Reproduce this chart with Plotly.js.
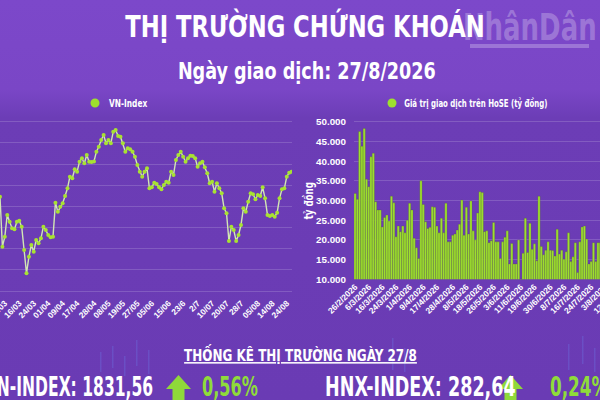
<!DOCTYPE html>
<html><head><meta charset="utf-8">
<script src="https://cdn.plot.ly/plotly-3.0.1.min.js"></script>
<style>
html,body{margin:0;padding:0;width:600px;height:400px;overflow:hidden;
background:linear-gradient(to bottom,#7c48ca 0px,#7a46c6 90px,#6c3db6 118px,#6a3bb4 400px);}
#chart{position:absolute;left:-60px;top:0;width:720px;height:400px;}
</style></head><body><div id="chart"></div>
<script>
// VN-Index daily closes (visible window)
const vnIndex = [1772.8,1654.7,1678.3,1729.6,1713.7,1698.1,1695.8,1713.7,1716.0,1701.9,
1646.9,1591.8,1631.0,1658.7,1642.8,1670.5,1662.7,1674.5,1701.9,1694.1,
1682.3,1676.9,1678.3,1758.6,1737.4,1749.2,1757.2,1774.5,1792.6,1820.1,
1816.3,1837.5,1831.9,1855.5,1863.5,1851.7,1871.3,1855.5,1855.0,1856.0,
1879.1,1890.9,1906.8,1918.6,1899.0,1906.8,1899.0,1926.4,1930.4,1916.2,
1914.6,1899.0,1879.1,1887.2,1884.8,1879.1,1867.3,1847.7,1831.9,1820.1,
1831.9,1839.9,1792.6,1795.0,1805.9,1802.8,1795.0,1790.3,1800.4,1808.2,
1805.9,1831.9,1824.1,1859.5,1871.3,1879.1,1867.3,1855.5,1863.5,1869.7,
1869.0,1863.5,1843.7,1851.7,1855.5,1842.3,1828.1,1804.5,1808.2,1784.6,
1804.5,1792.6,1780.8,1745.4,1733.6,1668.1,1701.9,1694.1,1668.1,1682.3,
1705.9,1745.4,1737.4,1761.0,1780.8,1778.5,1766.7,1776.8,1774.5,1795.0,
1769.0,1729.6,1727.2,1729.6,1725.5,1735.0,1769.0,1790.3,1792.6,1820.1,
1829.5,1831.56];
const vnTickIdx  = [2,8,14,20,26,32,39,45,51,57,63,70,76,82,88,94,100,107,113,119];
const vnTickText = ['06/03','16/03','24/03','01/04','09/04','17/04','28/04','08/05','19/05','27/05',
'05/06','15/06','23/6','2/7','10/07','20/07','28/7','05/08','14/08','24/08'];

// HoSE trading value (tỷ đồng)
const hoseValue = [31800,30300,47500,43800,48300,35400,33500,41100,42000,29700,
27600,27600,23300,25700,26300,24800,31100,29400,20800,23500,
22100,23500,21800,25000,29300,27600,20400,18000,15300,35000,
29000,24600,22900,23200,28400,28300,23500,21800,25500,21800,
29300,19500,
19500,21200,21500,22500,24000,30100,21200,28300,21500,29900,
22300,20000,26800,32200,32000,22100,22300,19300,19800,24400,
19500,19500,15300,19500,20700,22300,13900,19100,13900,13900,
20000,10000,16600,25500,16800,24200,17600,19000,14700,31100,
18300,16200,17400,19500,17400,17300,15900,22700,16400,17400,
15100,17000,21800,14500,15700,19300,11700,19500,23300,23500,
20200,13900,14500,19300,14500,19300,19300,19300];
const hoseTickIdx  = [0,6,12,18,24,30,36,43,49,55,61,67,73,79,86,92,98,104,110,117];
const hoseTickText = ['26/2/2026','6/3/2026','16/3/2026','24/3/2026','1/4/2026','9/4/2026','17/4/2026',
'28/4/2026','8/5/2026','18/5/2026','26/5/2026','3/6/2026','11/6/2026','19/6/2026','30/6/2026',
'8/7/2026','16/7/2026','24/7/2026','3/8/2026','12/8/2026'];

const vnClose = '1831,56', vnChange = '0,56%';
const hnxClose = '282,64', hnxChange = '0,24%';

const OFF = 60, W = 720, H = 400;
const px = p => (p + OFF) / W;
const py = p => 1 - p / H;
const FONT = "'Liberation Sans Narrow','Arial Narrow','DejaVu Sans Condensed',sans-serif";
const TICKFONT = "'Liberation Sans',Arial,sans-serif";
const GREEN = '#9ee02e';

const traces = [
  {type:'scatter', mode:'lines+markers', x: vnIndex.map((_, i) => i), y: vnIndex,
   xaxis:'x', yaxis:'y', line:{color:'#d2e6b4', width:1.4},
   marker:{color:'#a8e232', size:4}, showlegend:false, hoverinfo:'y'},
  {type:'bar', x: hoseValue.map((_, i) => i), y: hoseValue, xaxis:'x2', yaxis:'y2',
   marker:{color:GREEN, line:{color:'rgba(80,90,55,0.55)', width:0.5}}, showlegend:false}
];

function arrow(cx){
  const t = 375, hb = 389, b = 404, hw = 12.5, sw = 6;
  return {type:'path', xref:'paper', yref:'paper', fillcolor:'#8fd83a', line:{width:0},
    path:`M ${px(cx)} ${py(t)} L ${px(cx+hw)} ${py(hb)} L ${px(cx+sw)} ${py(hb)} L ${px(cx+sw)} ${py(b)} L ${px(cx-sw)} ${py(b)} L ${px(cx-sw)} ${py(hb)} L ${px(cx-hw)} ${py(hb)} Z`};
}
// faint decorative candlestick strokes in the footer background
function stick(x, y0, y1, w){
  return {type:'rect', xref:'paper', yref:'paper', x0:px(x), x1:px(x + w), y0:py(y1), y1:py(y0),
    fillcolor:'rgba(110,150,255,0.22)', line:{width:0}, layer:'below'};
}

// horizontal squeeze for each annotation (the reference uses a condensed face)
const squeeze = [0.78, 0.85, 0.75, 0.74, 0.8, 0.86, 0.665, 0.69, 0.75, 0.72];
const origin  = ['center','center','left','left','center','center','right','left','left','left'];

const layout = {
  width: W, height: H, margin:{l:0, r:0, t:0, b:0},
  paper_bgcolor:'rgba(0,0,0,0)', plot_bgcolor:'rgba(0,0,0,0)',
  separators: ',.',
  font:{family:FONT, color:'white'},
  title:{text:'THỊ TRƯỜNG CHỨNG KHOÁN', x:px(305), xanchor:'center', y:py(27), yanchor:'middle',
    font:{family:FONT, size:30, color:'white', weight:700}},
  bargap: 0.02,
  xaxis:{domain:[px(0), px(292)], range:[0, 121.17], tickvals:vnTickIdx, ticktext:vnTickText,
    tickangle:-45, tickfont:{family:TICKFONT, size:8.3, color:'white', weight:700},
    showgrid:false, zeroline:false, showline:false, ticks:'', fixedrange:true},
  yaxis:{domain:[py(296), py(112)], range:[1538.2, 1972.9], tick0:1550, dtick:50,
    showticklabels:false, gridcolor:'rgba(255,255,255,0.16)', gridwidth:1, zeroline:false, fixedrange:true},
  xaxis2:{anchor:'y2', domain:[px(354), 1], range:[-0.5, 134.3], tickvals:hoseTickIdx, ticktext:hoseTickText,
    tickangle:-45, tickfont:{family:TICKFONT, size:8.5, color:'white', weight:700},
    showgrid:false, zeroline:false, showline:false, ticks:'', fixedrange:true},
  yaxis2:{anchor:'x2', domain:[py(279.3), py(112)], range:[10000, 52462], tick0:10000, dtick:5000,
    tickformat:',.0f', tickfont:{family:TICKFONT, size:9.8, color:'white', weight:700},
    gridcolor:'rgba(255,255,255,0.16)', gridwidth:1, zeroline:false, showline:false,
    ticks:'', ticklabelstandoff:7, fixedrange:true},
  shapes:[
    stick(100, 352, 372, 1.5), stick(112, 346, 368, 1.5), stick(124, 356, 376, 1.5),
    stick(136, 340, 366, 1.5), stick(148, 350, 374, 1.5), stick(392, 338, 370, 1.5),
    stick(404, 348, 372, 1.5), stick(568, 344, 370, 1.5), stick(582, 336, 364, 1.5),
    stick(594, 348, 372, 1.5),
    {type:'rect', xref:'paper', yref:'paper', x0:px(470), x1:px(589), y0:py(48), y1:py(44),
     fillcolor:'rgba(255,255,255,0.25)', line:{width:0}},
    {type:'circle', xref:'paper', yref:'paper', x0:px(90.5), x1:px(99.5), y0:py(107.5), y1:py(98.5),
     fillcolor:GREEN, line:{width:0}},
    {type:'circle', xref:'paper', yref:'paper', x0:px(387.5), x1:px(396.5), y0:py(107.5), y1:py(98.5),
     fillcolor:GREEN, line:{width:0}},
    arrow(178.5), arrow(510.5)
  ],
  annotations:[
    {text:'NhânDân', xref:'paper', yref:'paper', x:px(529.5), y:py(27), xanchor:'center', yanchor:'middle',
     showarrow:false, font:{family:FONT, size:37, color:'rgba(255,255,255,0.26)', weight:700}},
    {text:'Ngày giao dịch: 27/8/2026', xref:'paper', yref:'paper', x:px(307), y:py(71), xanchor:'center', yanchor:'middle',
     showarrow:false, font:{family:FONT, size:23, color:'white', weight:700}},
    {text:'VN-Index', xref:'paper', yref:'paper', x:px(107), y:py(103), xanchor:'left', yanchor:'middle',
     showarrow:false, font:{family:FONT, size:11, color:'white', weight:700}},
    {text:'Giá trị giao dịch trên HoSE (tỷ đồng)', xref:'paper', yref:'paper', x:px(402), y:py(103), xanchor:'left', yanchor:'middle',
     showarrow:false, font:{family:FONT, size:10.5, color:'white', weight:700}},
    {text:'tỷ đồng', xref:'paper', yref:'paper', x:px(309), y:py(200), xanchor:'center', yanchor:'middle',
     textangle:-90, showarrow:false, font:{family:FONT, size:12, color:'white', weight:700}},
    {text:'<u>THỐNG KÊ THỊ TRƯỜNG NGÀY 27/8</u>', xref:'paper', yref:'paper', x:px(300), y:py(354), xanchor:'center', yanchor:'middle',
     showarrow:false, font:{family:FONT, size:15.5, color:'white', weight:700}},
    {text:'VN-INDEX: ' + vnClose, xref:'paper', yref:'paper', x:px(155), y:py(387), xanchor:'right', yanchor:'middle',
     showarrow:false, font:{family:FONT, size:26, color:'white', weight:700}},
    {text:vnChange, xref:'paper', yref:'paper', x:px(200), y:py(387), xanchor:'left', yanchor:'middle',
     showarrow:false, font:{family:FONT, size:26, color:'#8fdc3a', weight:700}},
    {text:'HNX-INDEX: ' + hnxClose, xref:'paper', yref:'paper', x:px(323), y:py(387), xanchor:'left', yanchor:'middle',
     showarrow:false, font:{family:FONT, size:26, color:'white', weight:700}},
    {text:hnxChange, xref:'paper', yref:'paper', x:px(548), y:py(387), xanchor:'left', yanchor:'middle',
     showarrow:false, font:{family:FONT, size:26, color:'#8fdc3a', weight:700}}
  ]
};

Plotly.newPlot('chart', traces, layout, {staticPlot:true, displayModeBar:false}).then(gd => {
  gd.querySelectorAll('g.annotation').forEach(g => {
    const i = +g.getAttribute('data-index');
    const t = g.querySelector('text.annotation-text');
    if (!t || squeeze[i] === undefined) return;
    t.style.transformBox = 'fill-box';
    t.style.transformOrigin = origin[i] + ' center';
    t.style.transform = `scaleX(${squeeze[i]})`;
  });
  const tt = gd.querySelector('.gtitle');
  if (tt) {
    tt.style.transformBox = 'fill-box';
    tt.style.transformOrigin = 'center center';
    tt.style.transform = 'scaleX(0.84)';
  }
});
</script></body></html>
